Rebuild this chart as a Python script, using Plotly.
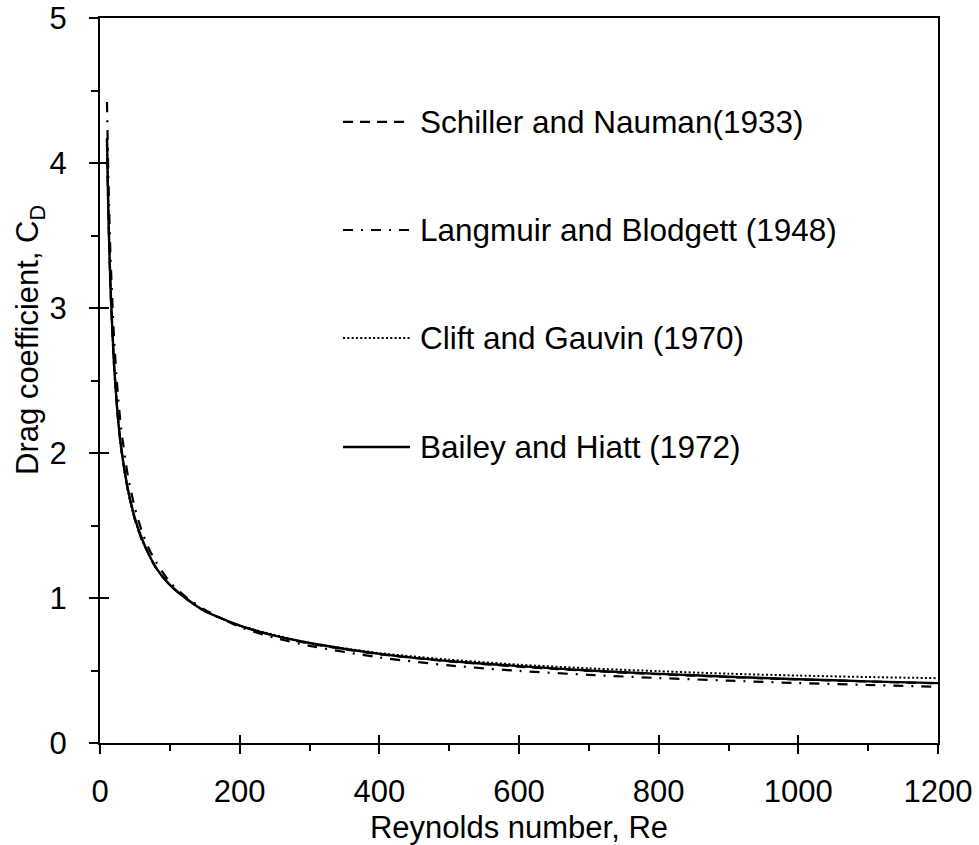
import plotly.graph_objects as go

# Reynolds numbers at which the correlations are drawn
reynolds = [10, 12, 15, 20, 25, 30, 40, 50, 60, 70, 80, 100, 125, 150, 200,
            250, 300, 400, 500, 600, 700, 800, 900, 1000, 1100, 1200]

# Drag coefficient for each correlation
cd_schiller = [4.15, 3.65, 3.14, 2.61, 2.28, 2.04, 1.74, 1.54, 1.40, 1.30, 1.21,
               1.09, 0.99, 0.91, 0.81, 0.74, 0.685, 0.612, 0.563, 0.526, 0.497,
               0.474, 0.455, 0.438, 0.424, 0.411]
cd_langmuir = [4.42, 3.90, 3.36, 2.80, 2.44, 2.18, 1.84, 1.62, 1.46, 1.34, 1.25,
               1.11, 1.00, 0.92, 0.80, 0.725, 0.67, 0.59, 0.535, 0.497, 0.47,
               0.448, 0.43, 0.413, 0.40, 0.388]
cd_clift = [4.15, 3.65, 3.14, 2.61, 2.28, 2.04, 1.74, 1.54, 1.40, 1.30, 1.21,
            1.09, 0.99, 0.91, 0.81, 0.745, 0.69, 0.62, 0.575, 0.54, 0.515,
            0.495, 0.478, 0.465, 0.455, 0.447]
cd_bailey = [4.17, 3.66, 3.15, 2.62, 2.28, 2.05, 1.75, 1.55, 1.41, 1.30, 1.21,
             1.09, 0.99, 0.91, 0.81, 0.74, 0.69, 0.615, 0.565, 0.53, 0.50,
             0.477, 0.457, 0.44, 0.425, 0.413]

labels = ["Schiller and Nauman(1933)", "Langmuir and Blodgett (1948)",
          "Clift and Gauvin (1970)", "Bailey and Hiatt (1972)"]

FONT = "Liberation Sans, Arial, sans-serif"
BLACK = "black"

styles = [
    dict(width=2.2, dash="10px,7px"),
    dict(width=2.2, dash="10px,8px,2px,8px"),
    dict(width=2, dash="2px,2.3px"),
    dict(width=2.4, dash="solid"),
]
series = [cd_schiller, cd_langmuir, cd_clift, cd_bailey]

fig = go.Figure()
# solid line underneath, broken lines on top
for idx in [3, 0, 1, 2]:
    fig.add_trace(go.Scatter(
        x=reynolds, y=series[idx], mode="lines", name=labels[idx],
        line=dict(color=BLACK, shape="spline", smoothing=0.6, **styles[idx]),
        showlegend=False,
    ))

# companion axes carrying the inward half of the major ticks
fig.add_trace(go.Scatter(x=[0], y=[0], xaxis="x2", yaxis="y2", mode="lines",
                         showlegend=False, hoverinfo="skip"))

# hand-drawn key with long line samples
legend_rows = [0.8566, 0.7076, 0.5586, 0.4083]
for lab, sty, yp in zip(labels, styles, legend_rows):
    fig.add_shape(type="line", xref="paper", yref="paper",
                  x0=0.290, x1=0.370, y0=yp, y1=yp,
                  line=dict(color=BLACK, width=sty["width"], dash=sty["dash"]))
    fig.add_annotation(xref="paper", yref="paper", x=0.379, y=yp,
                       xanchor="left", yanchor="middle", text=lab,
                       showarrow=False, font=dict(family=FONT, size=31.5, color=BLACK))

# vertical axis title, set a little above the middle of the axis
fig.add_annotation(xref="paper", yref="paper", x=-0.0835, y=0.556,
                   xanchor="center", yanchor="middle", textangle=-90,
                   text="Drag coefficient, C<sub>D</sub>", showarrow=False,
                   font=dict(family=FONT, size=31, color=BLACK))

axis_common = dict(showgrid=False, zeroline=False, showline=True, linecolor=BLACK,
                   linewidth=2, mirror=True, ticks="outside", ticklen=9,
                   tickwidth=2, tickcolor=BLACK, automargin=False,
                   tickfont=dict(family=FONT, size=31, color=BLACK))

fig.update_layout(
    width=979, height=845,
    margin=dict(l=100, r=41, t=18, b=102),
    paper_bgcolor="white", plot_bgcolor="white",
    showlegend=False,
    xaxis=dict(range=[0, 1200], tick0=0, dtick=200,
               minor=dict(dtick=100, ticks="outside", ticklen=6, tickwidth=1.5,
                          tickcolor=BLACK),
               ticklabelstandoff=11,
               title=dict(text="Reynolds number, Re", standoff=10,
                          font=dict(family=FONT, size=31, color=BLACK)),
               **axis_common),
    yaxis=dict(range=[0, 5], tick0=0, dtick=1,
               minor=dict(dtick=0.5, ticks="outside", ticklen=7, tickwidth=1.5,
                          tickcolor=BLACK),
               ticklabelstandoff=16,
               **axis_common),
    xaxis2=dict(range=[0, 1200], overlaying="x", anchor="y2", tick0=0, dtick=200,
                ticks="inside", ticklen=8, tickwidth=2, tickcolor=BLACK,
                showticklabels=False, showgrid=False, zeroline=False, showline=False),
    yaxis2=dict(range=[0, 5], overlaying="y", anchor="x2", tick0=0, dtick=1,
                ticks="inside", ticklen=9, tickwidth=2, tickcolor=BLACK,
                showticklabels=False, showgrid=False, zeroline=False, showline=False),
)

fig.write_html("out.html")
